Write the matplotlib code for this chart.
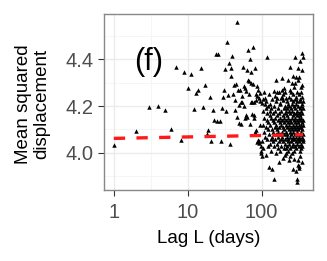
import numpy as np
import matplotlib
matplotlib.use('Agg')
import matplotlib.pyplot as plt

plt.rcParams['font.family'] = ['Liberation Sans', 'DejaVu Sans']

# lag in days, one point per lag 1..365
lags = np.arange(1, 366)

# mean squared displacement read per lag
msd_1_100 = [
    4.035, 4.094, 4.196, 4.200, 4.184, 4.104, 4.365, 4.056, 4.345, 4.276,
    4.337, 4.189, 4.255, 4.267, 4.362, 4.196, 4.288, 4.080, 4.098, 4.240,
    4.052, 4.182, 4.140, 4.422, 4.135, 4.422, 4.135, 4.053, 4.190, 4.240,
    4.270, 4.358, 4.180, 4.472, 4.247, 4.383, 4.038, 4.362, 4.330, 4.415,
    4.250, 4.288, 4.225, 4.185, 4.295, 4.154, 4.558, 4.270, 4.203, 4.126,
    4.267, 4.219, 4.123, 4.243, 4.217, 4.365, 4.199, 4.285, 4.147, 4.278,
    4.161, 4.264, 4.355, 4.154, 4.313, 4.440, 4.250, 4.306, 4.123, 4.400,
    4.300, 4.217, 4.345, 4.219, 4.168, 4.292, 4.450, 4.161, 4.147, 4.217,
    4.091, 4.362, 4.098, 4.250, 4.225, 4.243, 4.285, 4.045, 4.056, 4.270,
    4.236, 4.049, 4.042, 4.257, 4.220, 4.120, 4.028, 4.000, 4.007, 3.986,
]
msd_101_200 = [
    4.215, 4.050, 4.230, 4.120, 4.180, 4.020, 4.260, 4.090, 4.150, 4.210,
    4.070, 4.236, 4.110, 4.190, 3.990, 4.220, 4.140, 4.060, 4.170, 4.408,
    4.100, 4.030, 4.200, 4.130, 4.080, 4.250, 3.940, 4.160, 4.040, 4.180,
    4.120, 4.210, 4.060, 4.150, 4.010, 4.190, 4.100, 3.930, 4.230, 4.070,
    4.140, 4.050, 4.170, 4.090, 4.200, 4.030, 4.130, 3.888, 4.263, 4.110,
    4.180, 4.060, 4.243, 4.150, 4.000, 4.313, 4.120, 4.080, 4.220, 4.260,
    4.040, 4.160, 4.100, 4.236, 4.070, 4.190, 4.020, 4.140, 4.090, 3.960,
    4.260, 4.110, 4.050, 4.170, 4.215, 4.080, 4.130, 4.010, 4.210, 4.150,
    4.060, 4.180, 4.236, 4.030, 4.120, 4.090, 4.240, 4.140, 4.320, 4.267,
    4.070, 4.160, 4.250, 3.980, 4.110, 4.225, 4.050, 4.190, 4.100, 4.020,
]
msd_201_300 = [
    4.150, 4.080, 4.275, 4.130, 3.990, 4.200, 4.060, 4.170, 4.261, 4.040,
    4.120, 4.236, 4.090, 4.180, 4.000, 4.140, 4.021, 4.220, 4.070, 4.160,
    4.110, 4.030, 4.190, 4.080, 4.310, 4.130, 4.050, 4.010, 4.210, 4.150,
    4.060, 4.240, 4.100, 3.970, 4.180, 4.120, 4.040, 4.200, 4.090, 4.270,
    4.140, 4.365, 4.070, 4.170, 4.020, 3.986, 4.230, 4.110, 4.050, 4.190,
    4.130, 4.080, 4.260, 4.000, 4.300, 4.150, 4.060, 4.210, 4.100, 4.030,
    4.180, 4.120, 4.250, 4.070, 4.330, 4.160, 4.040, 3.930, 4.220, 4.090,
    4.140, 4.010, 4.200, 4.110, 4.060, 4.280, 3.975, 4.170, 4.130, 4.407,
    4.080, 4.230, 4.030, 4.150, 4.300, 4.100, 4.190, 4.050, 4.240, 3.923,
    4.120, 4.170, 4.070, 4.210, 4.325, 4.020, 4.140, 3.888, 4.090, 4.260,
]
msd_301_365 = [
    4.160, 4.040, 4.220, 3.876, 4.110, 4.180, 4.060, 3.950, 4.130, 4.362,
    4.080, 4.310, 3.970, 4.200, 4.100, 4.150, 4.030, 4.250, 4.120, 4.325,
    4.070, 3.944, 3.937, 4.170, 4.050, 4.220, 4.110, 4.010, 4.190, 4.390,
    4.140, 4.080, 3.986, 4.230, 4.060, 4.160, 4.280, 4.020, 4.120, 4.200,
    4.090, 4.150, 4.040, 4.260, 4.110, 4.180, 4.425, 4.070, 4.210, 4.355,
    4.130, 4.030, 4.240, 4.100, 4.170, 3.960, 4.290, 4.060, 4.140, 4.407,
    4.190, 4.080, 4.220, 4.120, 4.050,
]
msd = np.array(msd_1_100 + msd_101_200 + msd_201_300 + msd_301_365)

# fitted trend (red dashed), ends at lag 1 and lag 365
fit_lags = [1, 365]
fit_msd = [4.062, 4.078]

fig = plt.figure(figsize=(3.27, 2.61), dpi=100)
ax = fig.add_axes([0.319, 0.272, 0.637, 0.674])

ax.set_xscale('log')
lx = np.log10([lags.min(), lags.max()])
pad = 0.05 * (lx[1] - lx[0])
ax.set_xlim(10 ** (lx[0] - pad), 10 ** (lx[1] + pad))
yr = msd.max() - msd.min()
ax.set_ylim(msd.min() - 0.05 * yr, msd.max() + 0.05 * yr)

# grid like theme_bw
for v in [10 ** 0.5, 10 ** 1.5, 10 ** 2.5]:
    ax.axvline(v, color='#F4F4F4', lw=0.6, zorder=0)
for v in [3.9, 4.1, 4.3, 4.5]:
    ax.axhline(v, color='#F4F4F4', lw=0.6, zorder=0)
for v in [1, 10, 100]:
    ax.axvline(v, color='#EBEBEB', lw=1.0, zorder=0)
for v in [4.0, 4.2, 4.4]:
    ax.axhline(v, color='#EBEBEB', lw=1.0, zorder=0)

ax.plot(lags, msd, linestyle='none', marker='^', ms=3.2, color='black',
        markeredgewidth=0, zorder=2)
ax.plot(fit_lags, fit_msd, color='#FF1A1A', lw=2.4, dashes=(3.4, 3.4),
        zorder=3)

ax.set_xticks([1, 10, 100])
ax.set_xticklabels(['1', '10', '100'])
ax.xaxis.set_minor_locator(matplotlib.ticker.NullLocator())
ax.set_yticks([4.0, 4.2, 4.4])
ax.set_yticklabels(['4.0', '4.2', '4.4'])
ax.tick_params(axis='both', colors='#333333', labelcolor='#4D4D4D',
               labelsize=14.5, length=4, width=0.8)
ax.tick_params(axis='x', pad=5)
ax.tick_params(axis='y', pad=4)

for s in ax.spines.values():
    s.set_color('#888888')
    s.set_linewidth(1.0)

ax.text(0.2145, 0.727, '(f)', transform=ax.transAxes, fontsize=22,
        ha='center', va='center')

fig.text(0.6376, 0.0843, 'Lag L (days)', fontsize=13.5, ha='center',
         va='center')
fig.text(0.0994, 0.601, 'Mean squared\ndisplacement', fontsize=13.5,
         rotation=90, ha='center', va='center', linespacing=1.1)

fig.savefig('out.png', dpi=100)
